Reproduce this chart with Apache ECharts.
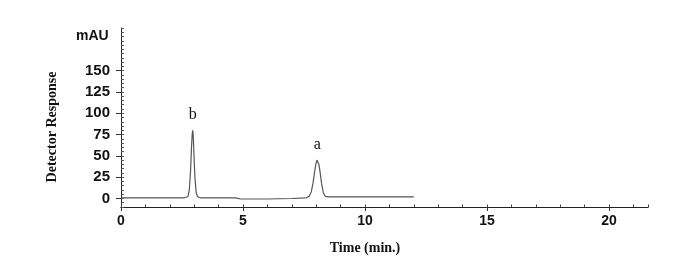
<!DOCTYPE html>
<html>
<head>
<meta charset="utf-8">
<script src="https://cdn.jsdelivr.net/npm/echarts@6/dist/echarts.min.js"></script>
<style>html,body{margin:0;padding:0;background:#fff}#c{width:697px;height:272px}</style>
</head>
<body>
<div id="c"></div>
<script>
// Chromatogram trace: time (min) and detector response (mAU)
var times  = [0, 1, 2, 2.6, 2.74, 2.8, 2.85, 2.89, 2.92, 2.94, 2.96, 2.99, 3.03, 3.08, 3.14, 3.25, 4, 4.7, 4.9, 6, 7, 7.6, 7.72, 7.8, 7.87, 7.93, 7.99, 8.03, 8.07, 8.11, 8.16, 8.22, 8.29, 8.37, 8.5, 9, 10, 11, 12];
var values = [0.6, 0.6, 0.7, 0.8, 2, 10, 32, 60, 76, 80, 74, 52, 24, 7, 2, 0.8, 0.8, 0.8, -0.6, -0.6, 0, 0.8, 3, 8, 18, 30, 41, 45, 44, 40, 31, 18, 7, 2.5, 1.8, 1.9, 1.9, 1.9, 1.9];
// Peak annotations
var peakNames  = ['b', 'a'];
var peakTimes  = [2.94, 8.05];
var peakValues = [80, 45];
// Axis tick labels
var xTickLabels = [0, 5, 10, 15, 20];
var yTickLabels = [0, 25, 50, 75, 100, 125, 150];

var chart = echarts.init(document.getElementById('c'));
var data = times.map(function (t, i) { return [t, values[i]]; });
var marks = peakNames.map(function (n, i) {
  return { name: n, coord: [peakTimes[i], peakValues[i]], value: n };
});

chart.setOption({
  animation: false,
  backgroundColor: '#fff',
  grid: { left: 121, right: 49, top: 28, bottom: 65 },
  xAxis: [{
    type: 'value', min: 0, max: 21.6, position: 'bottom',
    axisLine: { show: true, onZero: false, lineStyle: { color: '#222', width: 1 } },
    axisTick: { show: true, customValues: xTickLabels, length: 4, lineStyle: { color: '#333' } },
    axisLabel: { customValues: xTickLabels, fontFamily: 'Liberation Sans', fontSize: 14, fontWeight: 'bold', color: '#111', margin: 7 },
    splitLine: { show: false }
  }, {
    type: 'value', min: 0, max: 21.6, interval: 1, position: 'bottom', offset: 0,
    axisLine: { show: true, onZero: false, lineStyle: { color: '#222', width: 1 } },
    axisTick: { show: true, inside: true, length: 2.5, lineStyle: { color: '#444' } },
    axisLabel: { show: false },
    splitLine: { show: false }
  }],
  yAxis: [{
    type: 'value', min: -10, max: 200, position: 'left',
    axisLine: { show: true, onZero: false, lineStyle: { color: '#222', width: 1 } },
    axisTick: { show: true, customValues: yTickLabels, length: 5, lineStyle: { color: '#333' } },
    axisLabel: { customValues: yTickLabels, fontFamily: 'Liberation Sans', fontSize: 15, fontWeight: 'bold', color: '#111', margin: 11 },
    splitLine: { show: false }
  }, {
    type: 'value', min: -10, max: 200, interval: 5, position: 'left', offset: 0,
    axisLine: { show: false, onZero: false },
    axisTick: { show: true, inside: true, length: 3, lineStyle: { color: '#555' } },
    axisLabel: { show: false },
    splitLine: { show: false }
  }],
  series: [{
    type: 'line', data: data, showSymbol: false, symbol: 'none',
    lineStyle: { color: '#555', width: 1.2 },
    markPoint: {
      symbol: 'circle', symbolSize: 1,
      itemStyle: { color: 'rgba(0,0,0,0)' },
      label: { show: true, position: 'top', distance: 7, formatter: '{b}', fontFamily: 'Liberation Serif', fontSize: 16, color: '#111' },
      data: marks
    }
  }],
  graphic: [
    { type: 'text', left: 76, top: 29, style: { text: 'mAU', fontFamily: 'Liberation Sans', fontSize: 14, fontWeight: 'bold', fill: '#111' } },
    { type: 'text', x: 52, y: 127, rotation: Math.PI / 2, style: { text: 'Detector Response', fontFamily: 'Liberation Serif', fontSize: 14, fontWeight: 'bold', fill: '#111', align: 'center', verticalAlign: 'middle' } },
    { type: 'text', x: 365, y: 248, style: { text: 'Time (min.)', fontFamily: 'Liberation Serif', fontSize: 14, fontWeight: 'bold', fill: '#111', align: 'center', verticalAlign: 'middle' } }
  ]
});
</script>
</body>
</html>
